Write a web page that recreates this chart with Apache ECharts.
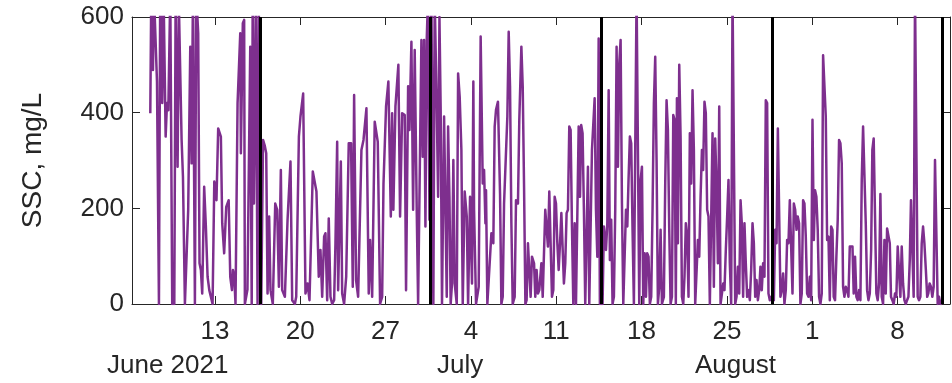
<!DOCTYPE html>
<html>
<head>
<meta charset="utf-8">
<script src="https://cdn.jsdelivr.net/npm/echarts@6/dist/echarts.min.js"></script>
<style>
html,body{margin:0;padding:0;background:#fff;}
#chart{width:952px;height:383px;}
</style>
</head>
<body>
<div id="chart"></div>
<script>
// Time in days counted from 0 June 2021 (July 1 = 31, August 1 = 62)
const times = [
7.70,7.78,7.92,8.00,8.25,8.41,8.52,8.68,8.79,8.96,9.07,9.18,9.34,9.50,9.67,9.78,9.94,10.05,10.27,10.38,
10.54,10.70,10.81,10.98,11.09,11.20,11.36,11.47,11.63,11.74,11.85,11.96,12.12,12.26,12.40,12.54,12.81,12.95,13.13,13.27,
13.49,13.60,13.76,13.93,14.13,14.26,14.40,14.48,14.59,14.69,14.86,15.08,15.13,15.29,15.40,15.46,15.67,15.90,16.02,16.10,
16.20,16.36,16.50,16.60,16.80,16.95,17.10,17.21,17.32,17.45,17.56,17.75,17.95,18.11,18.25,18.41,18.52,18.74,18.96,19.20,
19.34,19.56,19.67,19.89,20.02,20.24,20.43,20.60,20.76,21.03,21.33,21.52,21.66,21.80,21.96,22.07,22.21,22.34,22.48,22.62,
22.78,22.89,23.03,23.11,23.33,23.44,23.60,23.77,23.98,24.17,24.31,24.42,24.58,24.75,24.91,25.02,25.19,25.43,25.62,25.73,
25.90,26.11,26.36,26.55,26.72,26.83,27.04,27.23,27.43,27.54,27.64,27.81,28.05,28.19,28.36,28.57,28.68,28.85,28.96,29.12,
29.26,29.39,29.56,29.67,29.78,29.94,30.05,30.16,30.27,30.38,30.49,30.60,30.76,30.92,31.03,31.20,31.31,31.42,31.52,31.63,
31.80,31.91,32.02,32.13,32.24,32.34,32.45,32.56,32.67,32.84,32.95,33.08,33.22,33.33,33.49,33.66,33.77,33.93,34.09,34.20,
34.26,34.42,34.64,34.80,34.97,35.08,35.19,35.24,35.35,35.51,35.68,35.84,35.95,36.06,36.22,36.39,36.50,36.61,36.72,36.88,
36.99,37.10,37.21,37.32,37.43,37.59,37.70,37.86,37.97,38.14,38.25,38.36,38.47,38.57,38.68,38.79,38.90,39.01,39.18,39.28,
39.39,39.50,39.61,39.78,39.89,40.10,40.21,40.32,40.43,40.54,40.65,40.76,40.87,40.98,41.09,41.20,41.31,41.42,41.52,41.63,
41.74,41.85,41.96,42.07,42.18,42.29,42.40,42.51,42.62,42.73,42.84,42.95,43.05,43.16,43.27,43.38,43.49,43.60,43.71,43.82,
43.93,44.04,44.15,44.26,44.37,44.48,44.58,44.80,44.91,45.08,45.19,45.30,45.40,45.51,45.62,45.73,45.84,45.95,46.06,46.17,
46.28,46.39,46.50,46.61,46.72,46.83,46.93,47.04,47.15,47.26,47.37,47.48,47.59,47.70,47.81,47.92,48.03,48.14,48.25,48.36,
48.46,48.57,48.68,48.79,48.90,49.01,49.12,49.23,49.34,49.45,49.56,49.67,49.83,49.94,50.05,50.16,50.27,50.38,50.49,50.60,
50.71,50.81,50.90,50.98,51.09,51.20,51.31,51.42,51.52,51.63,51.74,51.85,51.96,52.07,52.18,52.29,52.40,52.51,52.62,52.73,
52.84,52.95,53.05,53.16,53.27,53.38,53.49,53.60,53.71,53.82,53.93,54.04,54.15,54.26,54.37,54.48,54.59,54.70,54.80,54.91,
55.02,55.13,55.24,55.35,55.46,55.57,55.68,55.79,55.90,56.01,56.12,56.22,56.33,56.44,56.55,56.66,56.77,56.88,56.99,57.10,
57.21,57.32,57.43,57.54,57.65,57.75,57.86,57.97,58.08,58.19,58.30,58.41,58.52,58.63,58.85,58.96,59.07,59.18,59.28,59.39,
59.50,59.61,59.72,59.83,59.94,60.05,60.16,60.27,60.38,60.49,60.60,60.71,60.81,60.92,61.03,61.14,61.25,61.36,61.47,61.58,
61.69,61.80,61.91,62.02,62.13,62.23,62.34,62.45,62.56,62.67,62.78,62.89,63.00,63.11,63.22,63.33,63.44,63.55,63.66,63.76,
63.87,63.98,64.09,64.20,64.31,64.42,64.53,64.64,64.75,64.86,64.97,65.08,65.19,65.30,65.40,65.51,65.62,65.73,65.84,65.95,
66.06,66.17,66.28,66.39,66.50,66.61,66.72,66.83,66.93,67.04,67.15,67.26,67.37,67.48,67.59,67.70,67.81,67.92,68.03,68.14,
68.25,68.36,68.46,68.57,68.68,68.79,68.90,69.01,69.12,69.23,69.34,69.45,69.56,69.67,69.78,69.89,70.00,70.10,70.21,70.32,
70.43,70.54,70.65,70.76,70.87,70.98,71.09,71.20,71.32,71.43,71.52,71.63,71.74,71.85,71.96,72.07,72.18,72.29,72.40,72.51,
72.62
];
// SSC, mg/L
const ssc = [
399,650,489,650,465,0,700,420,650,350,420,405,650,0,0,650,287,620,343,266,
0,0,197,538,294,650,0,650,566,85,71,22,245,162,57,29,0,256,217,367,
350,169,106,203,217,57,29,71,57,0,420,566,315,587,594,0,30,538,0,640,
210,640,0,620,0,343,330,315,22,183,29,0,210,197,36,280,29,15,176,298,
8,0,15,350,392,440,22,43,8,277,235,57,113,15,141,148,8,179,15,0,
8,127,339,29,298,22,0,57,336,336,36,437,50,15,197,322,343,409,22,134,
15,381,339,0,15,252,413,465,183,399,197,413,500,183,399,395,29,455,364,548,
197,531,190,0,0,552,308,552,162,555,650,176,650,0,640,406,224,600,406,0,
392,392,15,371,224,0,43,301,43,0,482,433,322,0,235,183,0,224,43,465,
197,0,36,559,252,280,169,238,0,0,148,127,371,406,423,231,0,15,210,210,
392,569,455,169,0,15,217,210,385,538,455,245,0,8,127,127,15,99,85,15,
71,22,29,85,15,197,197,120,235,231,15,29,224,210,127,71,127,190,190,43,
85,190,197,371,364,162,0,169,0,0,371,224,374,357,197,0,0,287,0,0,
322,322,430,197,99,555,0,0,162,113,169,447,92,176,0,15,197,538,287,503,
552,210,0,0,197,162,259,350,336,155,0,0,650,650,0,259,287,0,106,15,
106,99,0,15,197,420,517,301,0,36,155,0,15,252,426,364,155,0,15,395,
385,0,430,127,500,350,15,0,57,169,141,15,357,252,447,322,0,0,134,99,
224,322,280,423,399,197,183,0,0,357,36,346,252,85,413,0,0,43,29,113,
183,259,85,0,650,650,0,15,78,22,217,169,15,169,85,15,29,8,71,169,
127,15,50,8,29,78,29,85,57,426,420,22,8,15,8,155,127,367,364,15,
29,64,0,29,134,127,217,217,22,210,197,155,183,169,0,22,217,210,141,22,
15,57,8,385,134,238,224,155,15,0,22,520,517,392,134,141,8,162,155,15,
8,99,176,343,336,294,36,15,36,29,15,120,120,120,22,99,15,8,29,8,
259,371,371,169,29,8,22,113,322,346,343,22,8,43,230,15,0,134,22,158,
155,127,15,8,0,22,15,120,124,15,120,43,8,0,8,15,92,217,217,15,
650,650,15,8,15,127,162,127,71,15,22,43,36,15,36,301,301,0,15,0,
0
];
// vertical reference lines (days from 0 June)
const refLines = [16.71, 30.70, 44.72, 58.76, 72.70];
// x tick positions and labels
const tickDays = [13, 20, 27, 34, 41, 48, 55, 62, 69];
const tickLabels = ['13', '20', '27', '4', '11', '18', '25', '1', '8'];
const monthLabels = ['June 2021', 'July', 'August'];

const xMin = 6.2, xMax = 73.3;
const axisColor = '#262626';
const font = 'Liberation Sans, Arial, Helvetica, sans-serif';

const data = times.map((t, i) => [t, ssc[i]]);

const chart = echarts.init(document.getElementById('chart'), null, {renderer: 'canvas'});
const baseX = {
  type: 'value', min: xMin, max: xMax,
  axisLine: {show: true, onZero: false, lineStyle: {color: axisColor, width: 1}},
  splitLine: {show: false}
};
chart.setOption({
  animation: false,
  backgroundColor: '#ffffff',
  grid: {left: 132, right: 2, top: 17, bottom: 79, containLabel: false},
  xAxis: [
    Object.assign({}, baseX, {
      position: 'bottom',
      axisTick: {show: true, inside: true, length: 8, customValues: tickDays, lineStyle: {color: axisColor}},
      axisLabel: {
        show: true, customValues: tickDays, margin: 15, color: axisColor,
        fontSize: 26, fontFamily: font,
        formatter: v => { const i = tickDays.findIndex(d => Math.abs(d - v) < 1e-6); return i >= 0 ? tickLabels[i] : ''; }
      }
    }),
    Object.assign({}, baseX, {
      position: 'top',
      axisTick: {show: true, inside: true, length: 8, customValues: tickDays, lineStyle: {color: axisColor}},
      axisLabel: {show: false}
    })
  ],
  yAxis: [
    {
      type: 'value', min: 0, max: 600, interval: 200, position: 'left',
      name: 'SSC, mg/L', nameLocation: 'middle', nameGap: 85,
      nameTextStyle: {color: axisColor, fontSize: 28, fontFamily: font},
      axisLine: {show: true, lineStyle: {color: axisColor, width: 1}},
      axisTick: {show: true, inside: true, length: 8, lineStyle: {color: axisColor}},
      axisLabel: {show: true, margin: 8, color: axisColor, fontSize: 26, fontFamily: font},
      splitLine: {show: false}
    },
    {
      type: 'value', min: 0, max: 600, interval: 200, position: 'right',
      axisLine: {show: true, lineStyle: {color: axisColor, width: 1}},
      axisTick: {show: true, inside: true, length: 8, lineStyle: {color: axisColor}},
      axisLabel: {show: false},
      splitLine: {show: false}
    }
  ],
  series: [
    {
      type: 'line', data: data, xAxisIndex: 0, yAxisIndex: 0,
      showSymbol: false, clip: true,
      lineStyle: {color: '#7E2F8E', width: 2.5, join: 'round'},
      itemStyle: {color: '#7E2F8E'},
      markLine: {
        silent: true, symbol: ['none', 'none'], label: {show: false},
        lineStyle: {color: '#000000', width: 3, type: 'solid'},
        data: refLines.map(v => ({xAxis: v}))
      }
    }
  ],
  graphic: [
    {type: 'text', left: 107, top: 353, style: {text: monthLabels[0], fill: axisColor, font: '26px ' + font}},
    {type: 'text', left: 437, top: 353, style: {text: monthLabels[1], fill: axisColor, font: '26px ' + font}},
    {type: 'text', left: 695, top: 353, style: {text: monthLabels[2], fill: axisColor, font: '26px ' + font}}
  ]
});
</script>
</body>
</html>
